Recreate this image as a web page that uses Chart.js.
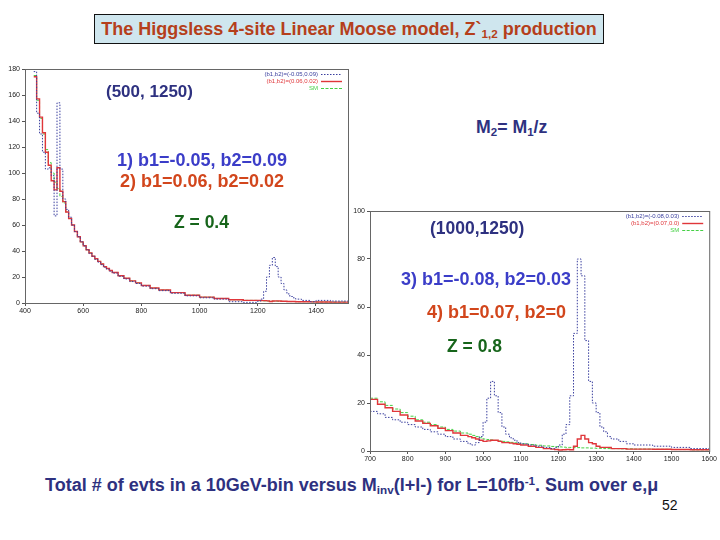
<!DOCTYPE html>
<html>
<head>
<meta charset="utf-8">
<script src="https://cdn.jsdelivr.net/npm/chart.js@4/dist/chart.umd.min.js"></script>
<style>
  body { margin: 0; background: #fff; }
  #slide { position: relative; width: 720px; height: 540px; overflow: hidden; font-family: "Liberation Sans", Arial, sans-serif; }
  canvas { position: absolute; }
  .txt { position: absolute; font-weight: bold; white-space: nowrap; line-height: 1; }
  .navy { color: #2e3180; }
  .blue { color: #3b3dc8; }
  .red { color: #d2461c; }
  .green { color: #17651b; }
  #title { position: absolute; left: 94px; top: 14px; width: 508px; height: 28px; background: #cfe6ee; border: 1px solid #111;
           color: #b53f1b; font-weight: bold; font-size: 18px; text-align: center; line-height: 28px; white-space: nowrap; }
  sub { font-size: 0.65em; vertical-align: -0.25em; }
  sup { font-size: 0.65em; vertical-align: 0.5em; }
</style>
</head>
<body>
<div id="slide">
  <canvas id="chart_low" width="352" height="260" style="left:0px;top:60px"></canvas>
  <canvas id="chart_high" width="372" height="265" style="left:346px;top:203px"></canvas>

  <div id="title">The Higgsless 4-site Linear Moose model, Z`<sub>1,2</sub> production</div>

  <div class="txt navy" style="left:106px;top:83px;font-size:17px">(500, 1250)</div>
  <div class="txt navy" style="left:476px;top:119px;font-size:17.7px">M<sub>2</sub>= M<sub>1</sub>/z</div>
  <div class="txt blue" style="left:117px;top:151px;font-size:18px">1) b1=-0.05, b2=0.09</div>
  <div class="txt red" style="left:120px;top:172px;font-size:18px">2) b1=0.06, b2=0.02</div>
  <div class="txt green" style="left:174px;top:214px;font-size:17.5px">Z = 0.4</div>

  <div class="txt navy" style="left:430px;top:220px;font-size:17.5px">(1000,1250)</div>
  <div class="txt blue" style="left:401px;top:270px;font-size:18px">3) b1=-0.08, b2=0.03</div>
  <div class="txt red" style="left:427px;top:303px;font-size:18px">4) b1=0.07, b2=0</div>
  <div class="txt green" style="left:447px;top:338px;font-size:17.5px">Z = 0.8</div>

  <div class="txt navy" style="left:45px;top:475px;font-size:18px">Total # of evts in a 10GeV-bin versus M<sub>inv</sub>(l+l-) for L=10fb<sup>-1</sup>. Sum over e,&mu;</div>
  <div class="txt" style="left:662px;top:498px;font-size:14px;font-weight:normal;color:#111">52</div>
</div>

<script>
// (500,1250) panel: left bin edges in GeV, last entry closes the final bin
var edgesLow = [430, 440, 450, 460, 470, 480, 490, 500, 510, 520, 530, 540, 550, 560, 570, 580, 590, 600,
  610, 620, 630, 640, 650, 660, 670, 680, 690, 700, 720, 740, 760, 780, 800, 830, 860, 900, 950, 1000,
  1050, 1100, 1150, 1200, 1210, 1220, 1230, 1240, 1250, 1260, 1270, 1280, 1290, 1300, 1310, 1320, 1330,
  1350, 1380, 1400, 1450, 1510];
var blueLow = [178, 146, 130, 116, 103, 104, 98, 67, 154, 103, 80, 72, 66, 60, 55, 51, 47, 44,
  41, 38, 36, 33.5, 31.5, 29.5, 27.5, 26, 24.5, 23, 20.5, 18.5, 16.5, 15, 13, 11, 9.5, 7.5, 5.5, 4,
  3, 1, 0.5, 1.5, 3, 9, 20, 29, 35, 28, 20, 15, 10, 7, 5, 4, 3,
  2, 1, 2, 1.5];
var redLow = [174, 157, 143, 131, 116, 106, 94, 87, 104, 86, 78, 70, 65, 60, 55, 51, 47, 44,
  41, 38.5, 36, 34, 32, 30, 28, 26.5, 25, 23.5, 21, 19, 17, 15.5, 13.5, 11.5, 10, 8, 6, 4.5,
  3.5, 2.5, 2, 2, 1.8, 1.8, 1.6, 1.2, 1.5, 1.6, 1.5, 1.4, 1.3, 1.2, 1.1, 1.1, 1,
  1, 0.9, 0.8, 0.7];
var smLow = [175, 156, 142, 130, 118, 108, 100, 93, 88, 82, 77, 70, 65, 60, 55, 51, 47, 44,
  41, 38.5, 36, 34, 32, 30, 28, 26.5, 25, 23.5, 21, 19, 17, 15.5, 13.5, 11.5, 10, 8, 6, 4.5,
  3.5, 2.5, 2, 1.8, 1.7, 1.6, 1.5, 1.5, 1.4, 1.4, 1.3, 1.3, 1.2, 1.2, 1.1, 1.1, 1,
  1, 0.9, 0.8, 0.7];
var labelsLow = ["(b1,b2)=(-0.05,0.09)", "(b1,b2)=(0.06,0.02)", "SM"];
var xTicksLow = [400, 600, 800, 1000, 1200, 1400];
var yTicksLow = [0, 20, 40, 60, 80, 100, 120, 140, 160, 180];

// (1000,1250) panel
var edgesHigh = [700, 720, 740, 760, 780, 800, 820, 840, 860, 880, 900, 920, 940, 960, 970, 980, 990,
  1000, 1010, 1020, 1030, 1040, 1050, 1060, 1070, 1080, 1090, 1100, 1120, 1140, 1160, 1180, 1190,
  1200, 1210, 1220, 1230, 1240, 1250, 1260, 1270, 1280, 1290, 1300, 1310, 1320, 1330, 1340, 1360,
  1380, 1400, 1450, 1500, 1550, 1600];
var blueHigh = [16.5, 15.5, 14, 13, 12, 11, 10, 9, 8, 7, 6, 5, 4, 3, 2.5, 3.5, 6,
  12, 22, 29, 23, 16, 10, 7, 5.5, 4.5, 3.5, 3, 2.5, 2, 1.5, 1, 1.5,
  2.5, 7, 11, 23, 49, 80, 73, 46, 29, 20, 16, 10, 8, 6, 5, 4,
  3, 2.5, 2, 1.5, 1];
var redHigh = [21.5, 19.5, 18, 16.5, 15, 13.5, 12.5, 11.5, 10.5, 9.5, 8.5, 7.5, 6.5, 6, 5.5, 5, 4.5,
  4, 4.2, 4.5, 4.5, 4, 3.5, 3.5, 3.3, 3, 2.8, 2.5, 2, 1.5, 1, 0.8, 0.6,
  0.4, 0.5, 0.6, 0.5, 2, 5, 6.5, 5, 3.5, 3, 2, 1.5, 1.5, 1.5, 1, 1,
  0.8, 0.8, 0.7, 0.6, 0.5];
var smHigh = [22, 20.5, 19, 17.5, 16, 14.5, 13, 12, 11, 10, 9, 8.3, 7.5, 7, 6.5, 6, 5.5,
  5, 4.8, 4.6, 4.4, 4.2, 4, 3.8, 3.6, 3.4, 3.2, 3, 2.7, 2.4, 2.1, 1.9, 1.8,
  1.7, 1.6, 1.5, 1.5, 1.4, 1.4, 1.3, 1.3, 1.2, 1.2, 1.1, 1.1, 1, 1, 1, 0.9,
  0.9, 0.8, 0.7, 0.6, 0.5];
var labelsHigh = ["(b1,b2)=(-0.08,0.03)", "(b1,b2)=(0.07,0.0)", "SM"];
var xTicksHigh = [700, 800, 900, 1000, 1100, 1200, 1300, 1400, 1500, 1600];
var yTicksHigh = [0, 20, 40, 60, 80, 100];

// step histogram: every value holds from its edge to the next one
function toSteps(edges, vals) {
  var pts = [];
  for (let i = 0; i < edges.length; i++) {
    pts.push({ x: edges[i], y: vals[Math.min(i, vals.length - 1)] });
  }
  return pts;
}

var framePlugin = {
  id: "frame",
  afterDraw: function (chart) {
    var a = chart.chartArea, ctx = chart.ctx;
    ctx.save();
    ctx.strokeStyle = "#666";
    ctx.lineWidth = 1;
    ctx.strokeRect(a.left + 0.5, a.top + 0.5, a.right - a.left, a.bottom - a.top);
    ctx.restore();
  }
};

// little PAW style legend: text right aligned, line sample on its right
var pawLegend = {
  id: "pawLegend",
  afterDraw: function (chart) {
    var a = chart.chartArea, ctx = chart.ctx;
    ctx.save();
    ctx.font = "6px 'Liberation Sans', Arial, sans-serif";
    ctx.textAlign = "right";
    ctx.textBaseline = "middle";
    chart.data.datasets.forEach(function (ds, i) {
      var y = a.top + 5 + i * 7;
      ctx.fillStyle = ds.borderColor;
      ctx.fillText(ds.label, a.right - 30, y);
      ctx.strokeStyle = ds.borderColor;
      ctx.lineWidth = ds.borderWidth;
      ctx.setLineDash(ds.borderDash || []);
      ctx.beginPath();
      ctx.moveTo(a.right - 27, y + 0.5);
      ctx.lineTo(a.right - 6, y + 0.5);
      ctx.stroke();
    });
    ctx.restore();
  }
};

function plainTick(v) {
  return String(v);
}

function make_hist(id, edges, blue, red, sm, labels, range, xTicks, yTicks, pad) {
  var el = document.getElementById(id);
  return new Chart(el, {
    type: "line",
    data: {
      datasets: [
        { label: labels[0], data: toSteps(edges, blue), stepped: true, borderColor: "#3a3f9e", borderWidth: 1, borderDash: [1.5, 1.5] },
        { label: labels[1], data: toSteps(edges, red), stepped: true, borderColor: "#e0363a", borderWidth: 1.4 },
        { label: labels[2], data: toSteps(edges, sm), stepped: true, borderColor: "#45d045", borderWidth: 1, borderDash: [3, 1.5] }
      ]
    },
    options: {
      responsive: false,
      animation: false,
      elements: { point: { radius: 0 } },
      layout: { padding: pad },
      plugins: { legend: { display: false }, tooltip: { enabled: false } },
      scales: {
        x: {
          type: "linear", min: range[0], max: range[1],
          afterBuildTicks: function (s) { s.ticks = xTicks.map(function (v) { return { value: v }; }); },
          afterFit: function (s) { s.height = 15; },
          grid: { drawOnChartArea: false, tickLength: 3, color: "#555" },
          border: { color: "#555" },
          ticks: { font: { size: 7, family: "'Liberation Sans', Arial" }, color: "#222", padding: 1, maxRotation: 0, callback: plainTick }
        },
        y: {
          min: range[2], max: range[3],
          afterBuildTicks: function (s) { s.ticks = yTicks.map(function (v) { return { value: v }; }); },
          afterFit: function (s) { s.width = 24; },
          grid: { drawOnChartArea: false, tickLength: 3, color: "#555" },
          border: { color: "#555" },
          ticks: { font: { size: 7, family: "'Liberation Sans', Arial" }, color: "#222", padding: 2, callback: plainTick }
        }
      }
    },
    plugins: [framePlugin, pawLegend]
  });
}

make_hist("chart_low", edgesLow, blueLow, redLow, smLow, labelsLow, [400, 1510, 0, 180], xTicksLow, yTicksLow,
  { top: 9, right: 4, bottom: 2, left: 1 });
make_hist("chart_high", edgesHigh, blueHigh, redHigh, smHigh, labelsHigh, [700, 1600, 0, 100], xTicksHigh, yTicksHigh,
  { top: 8, right: 5, bottom: 2, left: 0 });
</script>
</body>
</html>
